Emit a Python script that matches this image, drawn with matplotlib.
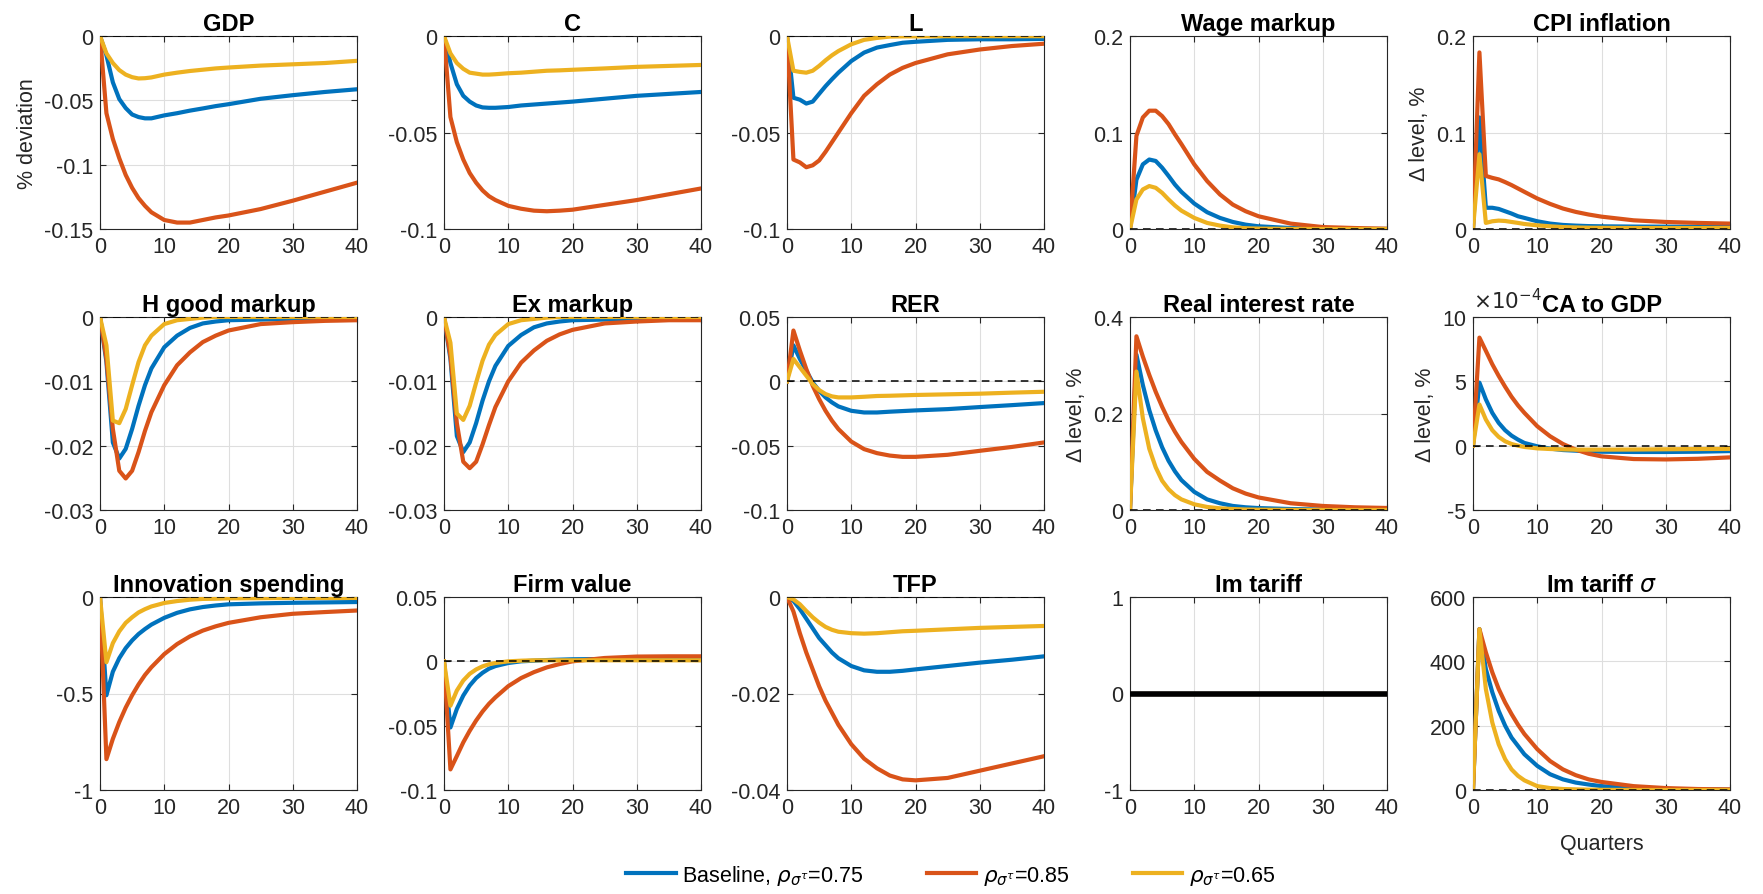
import numpy as np
import matplotlib
matplotlib.use("Agg")
import matplotlib.pyplot as plt
from matplotlib.ticker import FuncFormatter

plt.rcParams['font.family'] = ['Liberation Sans', 'DejaVu Sans']
plt.rcParams['axes.unicode_minus'] = False
plt.rcParams['mathtext.fontset'] = 'dejavusans'

# ---------------- data ----------------
quarters = [0, 1, 2, 3, 4, 5, 6, 7, 8, 10, 12, 14, 16, 18, 20, 25, 30, 35, 40]

labels = [r'Baseline, $\rho_{\sigma^\tau}$=0.75', r'$\rho_{\sigma^\tau}$=0.85', r'$\rho_{\sigma^\tau}$=0.65']
colors = ['#0072BD', '#D95319', '#EDB120']

gdp_base = [0, -0.015, -0.036, -0.049, -0.056, -0.061, -0.063, -0.064, -0.064, -0.0617, -0.060, -0.058, -0.0563, -0.0545, -0.053, -0.0488, -0.046, -0.0435, -0.0414]
gdp_hi = [0, -0.060, -0.080, -0.095, -0.108, -0.118, -0.126, -0.132, -0.137, -0.143, -0.145, -0.145, -0.143, -0.141, -0.1395, -0.1345, -0.128, -0.121, -0.114]
gdp_lo = [0, -0.0135, -0.021, -0.0265, -0.030, -0.032, -0.033, -0.0328, -0.0322, -0.030, -0.0285, -0.0272, -0.0262, -0.0252, -0.0245, -0.023, -0.022, -0.021, -0.0193]

c_base = [0, -0.014, -0.025, -0.031, -0.034, -0.036, -0.037, -0.0372, -0.0372, -0.0368, -0.036, -0.0355, -0.035, -0.0345, -0.034, -0.0325, -0.031, -0.030, -0.029]
c_hi = [0, -0.042, -0.055, -0.064, -0.071, -0.076, -0.080, -0.083, -0.085, -0.088, -0.0895, -0.0905, -0.0908, -0.0905, -0.090, -0.0875, -0.085, -0.082, -0.079]
c_lo = [0, -0.009, -0.014, -0.017, -0.019, -0.0195, -0.020, -0.020, -0.0198, -0.0193, -0.019, -0.0185, -0.018, -0.0178, -0.0175, -0.0168, -0.016, -0.0155, -0.015]

l_base = [0, -0.032, -0.033, -0.035, -0.034, -0.030, -0.026, -0.0224, -0.019, -0.013, -0.0086, -0.006, -0.0047, -0.0035, -0.003, -0.002, -0.0017, -0.0017, -0.0015]
l_hi = [0, -0.064, -0.0655, -0.068, -0.067, -0.0645, -0.060, -0.055, -0.050, -0.040, -0.031, -0.025, -0.020, -0.0165, -0.014, -0.0095, -0.007, -0.0052, -0.004]
l_lo = [0, -0.018, -0.0186, -0.019, -0.018, -0.0155, -0.0126, -0.010, -0.0078, -0.0043, -0.002, -0.001, -0.0003, -0.0002, -0.0002, -0.0001, -0.0001, -0.0001, -0.0001]

wm_base = [0, 0.051, 0.067, 0.072, 0.0705, 0.0635, 0.055, 0.046, 0.0385, 0.0264, 0.0174, 0.0115, 0.0073, 0.0045, 0.0028, 0.001, 0.0003, 0.0001, 0.0]
wm_hi = [0, 0.0965, 0.1156, 0.1226, 0.1226, 0.117, 0.1087, 0.098, 0.088, 0.067, 0.0497, 0.0358, 0.0253, 0.0184, 0.0132, 0.0056, 0.002, 0.001, 0.0003]
wm_lo = [0, 0.0306, 0.041, 0.0445, 0.0427, 0.0375, 0.0306, 0.0243, 0.019, 0.0115, 0.0063, 0.0035, 0.0017, 0.0008, 0.0004, 0.0001, 0.0, 0.0, 0.0]

cpi_base = [0, 0.1156, 0.022, 0.022, 0.0208, 0.0184, 0.016, 0.0132, 0.0115, 0.008, 0.0056, 0.0042, 0.0035, 0.003, 0.0028, 0.0025, 0.0024, 0.0023, 0.0022]
cpi_hi = [0, 0.183, 0.055, 0.053, 0.0514, 0.0486, 0.0455, 0.042, 0.0385, 0.0316, 0.026, 0.0212, 0.0177, 0.015, 0.0128, 0.009, 0.0073, 0.0063, 0.0056]
cpi_lo = [0, 0.0775, 0.0063, 0.008, 0.0087, 0.0083, 0.0073, 0.0063, 0.0052, 0.0038, 0.0028, 0.002, 0.0016, 0.0013, 0.0012, 0.001, 0.001, 0.001, 0.001]

hm_base = [0, -0.007, -0.0195, -0.022, -0.0205, -0.0174, -0.0138, -0.0106, -0.008, -0.0047, -0.0029, -0.0017, -0.001, -0.0007, -0.0005, -0.0004, -0.0003, -0.0003, -0.0003]
hm_hi = [0, -0.0065, -0.0174, -0.0239, -0.0251, -0.0239, -0.021, -0.0177, -0.0148, -0.0106, -0.0075, -0.0055, -0.0039, -0.0029, -0.0021, -0.0011, -0.0008, -0.0006, -0.0005]
hm_lo = [0, -0.0044, -0.0161, -0.0165, -0.0143, -0.0106, -0.007, -0.0044, -0.0029, -0.0011, -0.0005, -0.0003, -0.0001, 0.0, 0.0, 0.0, 0.0, 0.0, 0.0]

em_base = [0, -0.0065, -0.0185, -0.021, -0.0195, -0.0165, -0.013, -0.010, -0.0076, -0.0045, -0.0028, -0.0016, -0.001, -0.0007, -0.0005, -0.0004, -0.0003, -0.0003, -0.0003]
em_hi = [0, -0.006, -0.0165, -0.0225, -0.0235, -0.0225, -0.0198, -0.0168, -0.014, -0.010, -0.0071, -0.0052, -0.0037, -0.0027, -0.002, -0.001, -0.0007, -0.0005, -0.0005]
em_lo = [0, -0.004, -0.015, -0.016, -0.0138, -0.0102, -0.0068, -0.0043, -0.0028, -0.0011, -0.0005, -0.0003, -0.0001, 0.0, 0.0, 0.0, 0.0, 0.0, 0.0]

rer_base = [0, 0.028, 0.0174, 0.0083, -0.0008, -0.0073, -0.0125, -0.0164, -0.0195, -0.0229, -0.0242, -0.0242, -0.0236, -0.0231, -0.0226, -0.0216, -0.020, -0.0185, -0.0169]
rer_hi = [0, 0.0395, 0.024, 0.0096, -0.0034, -0.0138, -0.0229, -0.0306, -0.0371, -0.0468, -0.0527, -0.0558, -0.0577, -0.0587, -0.0587, -0.0571, -0.054, -0.051, -0.0475]
rer_lo = [0, 0.0174, 0.0109, 0.0044, -0.0021, -0.0068, -0.0099, -0.0117, -0.0125, -0.0125, -0.012, -0.0114, -0.0112, -0.0109, -0.0106, -0.0101, -0.0096, -0.0088, -0.0081]

rir_base = [0, 0.322, 0.259, 0.207, 0.165, 0.130, 0.102, 0.080, 0.062, 0.0376, 0.022, 0.014, 0.0084, 0.0056, 0.004, 0.002, 0.001, 0.0008, 0.0006]
rir_hi = [0, 0.360, 0.318, 0.280, 0.245, 0.214, 0.186, 0.162, 0.141, 0.106, 0.079, 0.061, 0.045, 0.034, 0.026, 0.014, 0.0084, 0.0056, 0.0042]
rir_lo = [0, 0.287, 0.190, 0.127, 0.0885, 0.0606, 0.043, 0.0307, 0.022, 0.0118, 0.0063, 0.0035, 0.002, 0.001, 0.0006, 0.0002, 0.0, 0.0, 0.0]

# CA to GDP, in units of 1e-4
ca_base = [0, 4.9, 3.6, 2.55, 1.77, 1.2, 0.78, 0.47, 0.21, -0.05, -0.23, -0.34, -0.39, -0.44, -0.47, -0.49, -0.49, -0.47, -0.42]
ca_hi = [0, 8.4, 7.37, 6.33, 5.42, 4.58, 3.8, 3.13, 2.55, 1.51, 0.73, 0.13, -0.31, -0.63, -0.83, -1.04, -1.07, -1.02, -0.91]
ca_lo = [0, 3.2, 2.03, 1.2, 0.68, 0.34, 0.13, 0.0, -0.1, -0.21, -0.26, -0.29, -0.31, -0.31, -0.31, -0.30, -0.28, -0.26, -0.25]

inn_base = [0, -0.509, -0.387, -0.317, -0.265, -0.225, -0.192, -0.166, -0.143, -0.108, -0.082, -0.064, -0.052, -0.044, -0.038, -0.033, -0.030, -0.028, -0.026]
inn_hi = [0, -0.84, -0.735, -0.648, -0.573, -0.509, -0.453, -0.404, -0.364, -0.296, -0.244, -0.204, -0.174, -0.152, -0.134, -0.105, -0.087, -0.078, -0.070]
inn_lo = [0, -0.338, -0.239, -0.178, -0.134, -0.105, -0.080, -0.063, -0.049, -0.031, -0.021, -0.014, -0.010, -0.009, -0.007, -0.006, -0.005, -0.005, -0.005]

fv_base = [0, -0.0514, -0.037, -0.0266, -0.0188, -0.013, -0.0089, -0.0057, -0.0037, -0.0013, 0.0, 0.0005, 0.001, 0.0013, 0.0016, 0.0018, 0.0018, 0.0018, 0.0017]
fv_hi = [0, -0.084, -0.0736, -0.063, -0.054, -0.046, -0.039, -0.033, -0.028, -0.0193, -0.013, -0.0084, -0.0047, -0.0021, 0.0, 0.0026, 0.0037, 0.0039, 0.0039]
fv_lo = [0, -0.0345, -0.0227, -0.0149, -0.0097, -0.0063, -0.0039, -0.0023, -0.0013, 0.0, 0.0005, 0.0008, 0.0008, 0.0008, 0.0008, 0.0008, 0.0008, 0.0008, 0.0008]

tfp_base = [0, -0.0008, -0.0025, -0.0045, -0.0065, -0.0085, -0.010, -0.0115, -0.0127, -0.0143, -0.0152, -0.0155, -0.0155, -0.0153, -0.015, -0.0143, -0.0136, -0.013, -0.0123]
tfp_hi = [0, -0.003, -0.0075, -0.0115, -0.015, -0.0185, -0.0215, -0.024, -0.0265, -0.0305, -0.0335, -0.0355, -0.037, -0.0378, -0.038, -0.0375, -0.036, -0.0345, -0.033]
tfp_lo = [0, -0.0005, -0.0015, -0.0029, -0.0042, -0.0053, -0.0062, -0.0068, -0.0072, -0.0075, -0.0076, -0.0075, -0.0073, -0.0071, -0.007, -0.0067, -0.0064, -0.0062, -0.006]

imt_base = [0] * 19
imt_hi = [0] * 19
imt_lo = [0] * 19

imts_base = [0, 500, 376, 304, 246, 200, 163, 137, 111, 75, 49, 33, 23, 17, 12, 6, 3, 2, 1]
imts_hi = [0, 500, 428, 366, 314, 272, 236, 203, 174, 127, 90, 64, 46, 33, 25, 12, 6, 3, 2]
imts_lo = [0, 500, 314, 210, 142, 96, 64, 44, 30, 12, 6, 3, 2, 1, 0.5, 0, 0, 0, 0]

titles = ['GDP', 'C', 'L', 'Wage markup', 'CPI inflation',
          'H good markup', 'Ex markup', 'RER', 'Real interest rate', 'CA to GDP',
          'Innovation spending', 'Firm value', 'TFP', 'Im tariff', r'Im tariff $\sigma$']
series = [(gdp_base, gdp_hi, gdp_lo), (c_base, c_hi, c_lo), (l_base, l_hi, l_lo),
          (wm_base, wm_hi, wm_lo), (cpi_base, cpi_hi, cpi_lo),
          (hm_base, hm_hi, hm_lo), (em_base, em_hi, em_lo), (rer_base, rer_hi, rer_lo),
          (rir_base, rir_hi, rir_lo), (ca_base, ca_hi, ca_lo),
          (inn_base, inn_hi, inn_lo), (fv_base, fv_hi, fv_lo), (tfp_base, tfp_hi, tfp_lo),
          (imt_base, imt_hi, imt_lo), (imts_base, imts_hi, imts_lo)]
yticks = [[-0.15, -0.1, -0.05, 0], [-0.1, -0.05, 0], [-0.1, -0.05, 0], [0, 0.1, 0.2], [0, 0.1, 0.2],
          [-0.03, -0.02, -0.01, 0], [-0.03, -0.02, -0.01, 0], [-0.1, -0.05, 0, 0.05], [0, 0.2, 0.4], [-5, 0, 5, 10],
          [-1, -0.5, 0], [-0.1, -0.05, 0, 0.05], [-0.04, -0.02, 0], [-1, 0, 1], [0, 200, 400, 600]]
ylabels = {0: '% deviation', 4: 'Δ level, %', 8: 'Δ level, %', 9: 'Δ level, %'}
xticks = [0, 10, 20, 30, 40]

# ---------------- layout ----------------
W, H = 1763, 895
fig = plt.figure(figsize=(W / 100, H / 100), dpi=100)
col_left = [100, 444, 787, 1130, 1473]
row_top = [37, 318, 598]
aw, ah = 257, 193

TICK_FS = 15.5
TITLE_FS = 17
dark = '#262626'

handles = None
for i in range(15):
    r, c = divmod(i, 5)
    ax = fig.add_axes([col_left[c] / W, 1 - (row_top[r] + ah) / H, aw / W, ah / H])
    hs = []
    for s, col in zip(series[i], colors):
        h, = ax.plot(quarters, s, color=col, lw=3.0, zorder=3, solid_joinstyle='round')
        hs.append(h)
    if i == 0:
        handles = hs
    if i == 13:
        ax.axhline(0, color='black', lw=4, zorder=4)
    else:
        ax.axhline(0, color='black', lw=1.1, ls=(0, (5, 3.5)), zorder=4)
    yt = yticks[i]
    ax.set_xlim(0, 40)
    ax.set_ylim(yt[0], yt[-1])
    ax.set_xticks(xticks)
    ax.set_yticks(yt)
    ax.yaxis.set_major_formatter(FuncFormatter(lambda v, p: f'{v:g}'))
    ax.grid(True, color='#dedede', lw=0.8, zorder=0)
    ax.tick_params(direction='in', top=True, right=True, length=4, width=0.8,
                   labelsize=TICK_FS, colors=dark, pad=5)
    for sp in ax.spines.values():
        sp.set_color(dark)
        sp.set_linewidth(0.8)
    ax.set_title(titles[i], fontsize=TITLE_FS, fontweight='bold', pad=4, color='black')
    if i in ylabels:
        ax.set_ylabel(ylabels[i], fontsize=TICK_FS, color=dark, labelpad=4)
    if i == 9:
        ax.text(0.0, 1.02, r'$\times10^{-4}$', transform=ax.transAxes, fontsize=TICK_FS,
                color=dark, ha='left', va='bottom')
    if i == 14:
        ax.set_xlabel('Quarters', fontsize=TICK_FS, color=dark, labelpad=11)

fig.legend(handles, labels, loc='center left', bbox_to_anchor=(626 / W, 1 - 876 / H),
           ncol=3, frameon=False, fontsize=TICK_FS, handlelength=2.3, handletextpad=0.3,
           columnspacing=2.95, borderpad=0, borderaxespad=0)

fig.savefig('out.png', dpi=100, facecolor='white')
